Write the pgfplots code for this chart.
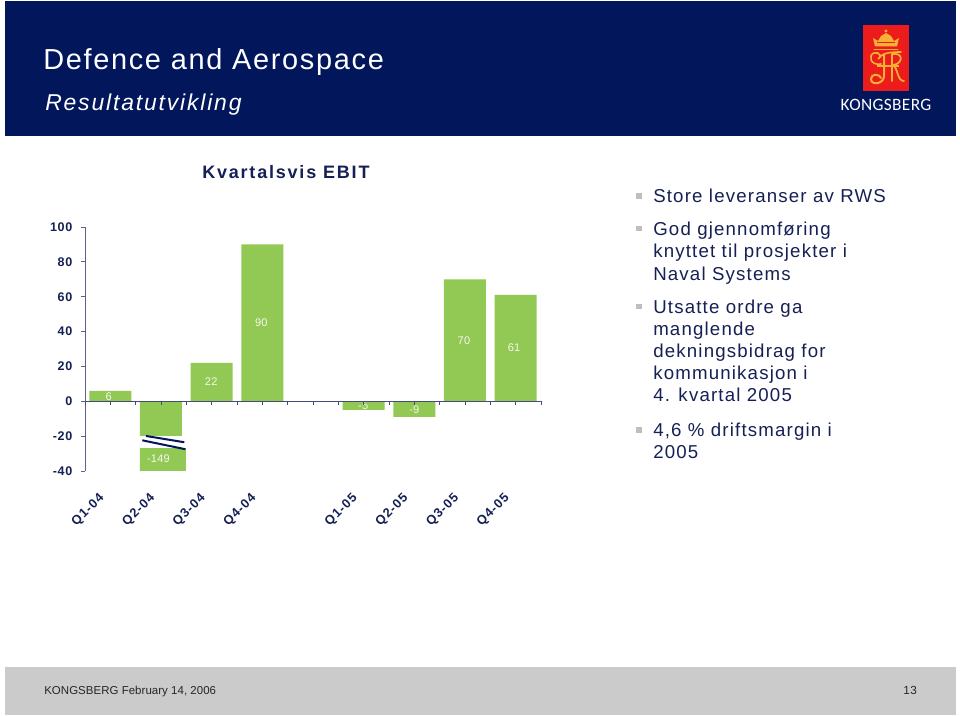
\documentclass[border=0pt]{standalone}
\usepackage{fontspec}
\usepackage{pgfplots}
\pgfplotsset{compat=1.18}
\setmainfont{Liberation Sans}
\newfontfamily\logofont{Carlito}
\definecolor{navy}{RGB}{2,22,92}
\definecolor{ink}{RGB}{22,32,84}
\definecolor{barg}{RGB}{146,200,84}
\definecolor{footg}{RGB}{203,203,203}
\definecolor{bullet}{RGB}{190,190,190}
\definecolor{logored}{RGB}{236,28,28}
\definecolor{logoy}{RGB}{246,176,52}
\newcommand{\px}[2]{\fontsize{#1}{#1}\selectfont\addfontfeature{LetterSpace=#2}}
\begin{document}
\begin{tikzpicture}[x=0.75pt,y=-0.75pt]
\useasboundingbox (0,0) rectangle (960,716);
\fill[white] (0,0) rectangle (960,716);
\fill[navy] (5,1) rectangle (956,136);
\fill[footg] (5,667) rectangle (956,714.5);
% header text
\node[anchor=base west,inner sep=0,text=white] at (43,70) {\px{21.7}{5.8}Defence and Aerospace};
\node[anchor=base west,inner sep=0,text=white] at (45,111) {\itshape\px{17.2}{8}Resultatutvikling};
% logo
\fill[logored] (863,25) rectangle (909,91);
\begin{scope}[logoy]
\fill (875,46.5) -- (873,38) -- (878,41) -- (881,36) -- (886,33) -- (891,36) -- (894,41) -- (899,38) -- (897,46.5) -- cycle;
\fill[logored] (877,42) rectangle (895,43);
\fill (886,31) circle (1.6);
\draw[line width=0.7pt,line cap=round] (874,49) -- (898,49);
\draw[line width=1.2pt,line cap=round] (881,64) .. controls (870,66) and (868,55) .. (874,53) .. controls (880,51) and (882,58) .. (878,59) .. controls (882,53) and (890,52) .. (901,52);
\draw[line width=1.5pt,line cap=round] (884,54) -- (884,76) .. controls (884,84) and (871,86) .. (871,79) .. controls (871,73) and (880,74) .. (881,78);
\draw[line width=1.5pt,line cap=round] (892,54) -- (892,81);
\draw[line width=1.3pt,line cap=round] (892,54) .. controls (904,52) and (903,64) .. (893,65) .. controls (898,68) and (897,81) .. (904,81);
\draw[line width=0.9pt] (877,66) -- (899,66);
\end{scope}
\node[anchor=base,inner sep=0,text=white] at (886,111) {\logofont\px{13}{2}KONGSBERG};
% chart title
\node[anchor=base west,inner sep=0,text=ink] at (202,179) {\bfseries\px{13.5}{10}Kvartalsvis EBIT};
% bullets text
\foreach \yy in {193.5,226,304,427}
  \fill[bullet] (636,\yy) rectangle (641.5,\yy+5.5);
\foreach \yy/\tt in {203/Store leveranser av RWS,236/God gjennomføring,258/knyttet til prosjekter i,281/Naval Systems,314/Utsatte ordre ga,336/manglende,358/dekningsbidrag for,380/kommunikasjon i,402/4. kvartal 2005,436/{4,6 \% driftsmargin i},458/2005}
  \node[anchor=base west,inner sep=0,text=ink] at (653,\yy) {\px{14}{6.3}\tt};
% footer
\node[anchor=base west,inner sep=0,text=black!85] at (44,694) {\px{8.6}{0.4}KONGSBERG February 14, 2006};
\node[anchor=base west,inner sep=0,text=black!85] at (903,694) {\px{8.8}{4}13};
% main axis
\begin{axis}[
  at={(63.75pt,-353.25pt)},anchor=south west,
  scale only axis,width=342pt,height=183pt,
  xmin=-0.5,xmax=8.5,ymin=-40,ymax=100,
  axis y line=left,axis x line=none,
  axis line style={-,color=ink!70,line width=0.7pt},
  ytick={-40,-20,0,20,40,60,80,100},
  yticklabels={-40,-20,0,20,40,60,80,100},
  tick align=outside,major tick length=3pt,
  tick style={color=ink!70,line width=0.6pt},
  yticklabel style={text=ink,font=\bfseries\px{9.4}{5}},
  y tick label style={xshift=-3pt},
]
\addplot[ybar,bar width=31.5pt,bar shift=0pt,fill=barg,draw=none] coordinates {
 (0,6) (1,-149) (2,22) (3,90) (5,-5) (6,-9) (7,70) (8,61)};
% wider lower piece of the broken bar
\fill[barg] (axis cs:1.40,-27) rectangle (axis cs:1.487,-40);
\fill[white] (axis cs:0.55,-20) rectangle (axis cs:1.55,-27);
\draw[navy,line width=1.5pt] (axis cs:0.704,-19.9) -- (axis cs:1.46,-23.5);
\draw[navy,line width=1.5pt] (axis cs:0.631,-22.4) -- (axis cs:1.48,-27.5);
% bar value labels
\addplot[draw=none,mark=none,nodes near coords,point meta=explicit symbolic,
  nodes near coords style={anchor=center,text=white!90!barg,font=\px{8.3}{2}}]
  table[meta=label] {
x y label
-0.03 2.9 6
0.95 -33 -149
1.99 11 22
2.98 45 90
4.99 -2.7 -5
6.0 -4.6 -9
6.98 35 70
7.97 30.5 61
};
\end{axis}
% zero line with tick marks
\begin{axis}[
  at={(63.75pt,-353.25pt)},anchor=south west,
  scale only axis,width=342pt,height=183pt,
  xmin=-0.5,xmax=8.5,ymin=-40,ymax=100,
  axis y line=none,axis x line=middle,
  axis line style={-,color=ink!80,line width=0.7pt},
  xtick={-0.5,0,...,8.5},xticklabels={},
  tick align=outside,major tick length=2.5pt,
  tick style={color=ink!80,line width=0.6pt},
]
\addplot[draw=none] coordinates {(0,0)};
\end{axis}
% quarter labels
\begin{axis}[
  at={(63.75pt,-353.25pt)},anchor=south west,
  scale only axis,width=342pt,height=183pt,
  xmin=-0.5,xmax=8.5,ymin=-40,ymax=100,
  axis y line=none,axis x line=bottom,
  axis line style={draw=none},
  xtick={0,1,2,3,5,6,7,8},
  xticklabels={Q1-04,Q2-04,Q3-04,Q4-04,Q1-05,Q2-05,Q3-05,Q4-05},
  major tick length=0pt,
  xticklabel style={rotate=45,anchor=north east,text=ink,font=\bfseries\px{9.6}{8},xshift=-14.2pt,yshift=-1.2pt},
]
\addplot[draw=none] coordinates {(0,0)};
\end{axis}
\end{tikzpicture}
\end{document}
